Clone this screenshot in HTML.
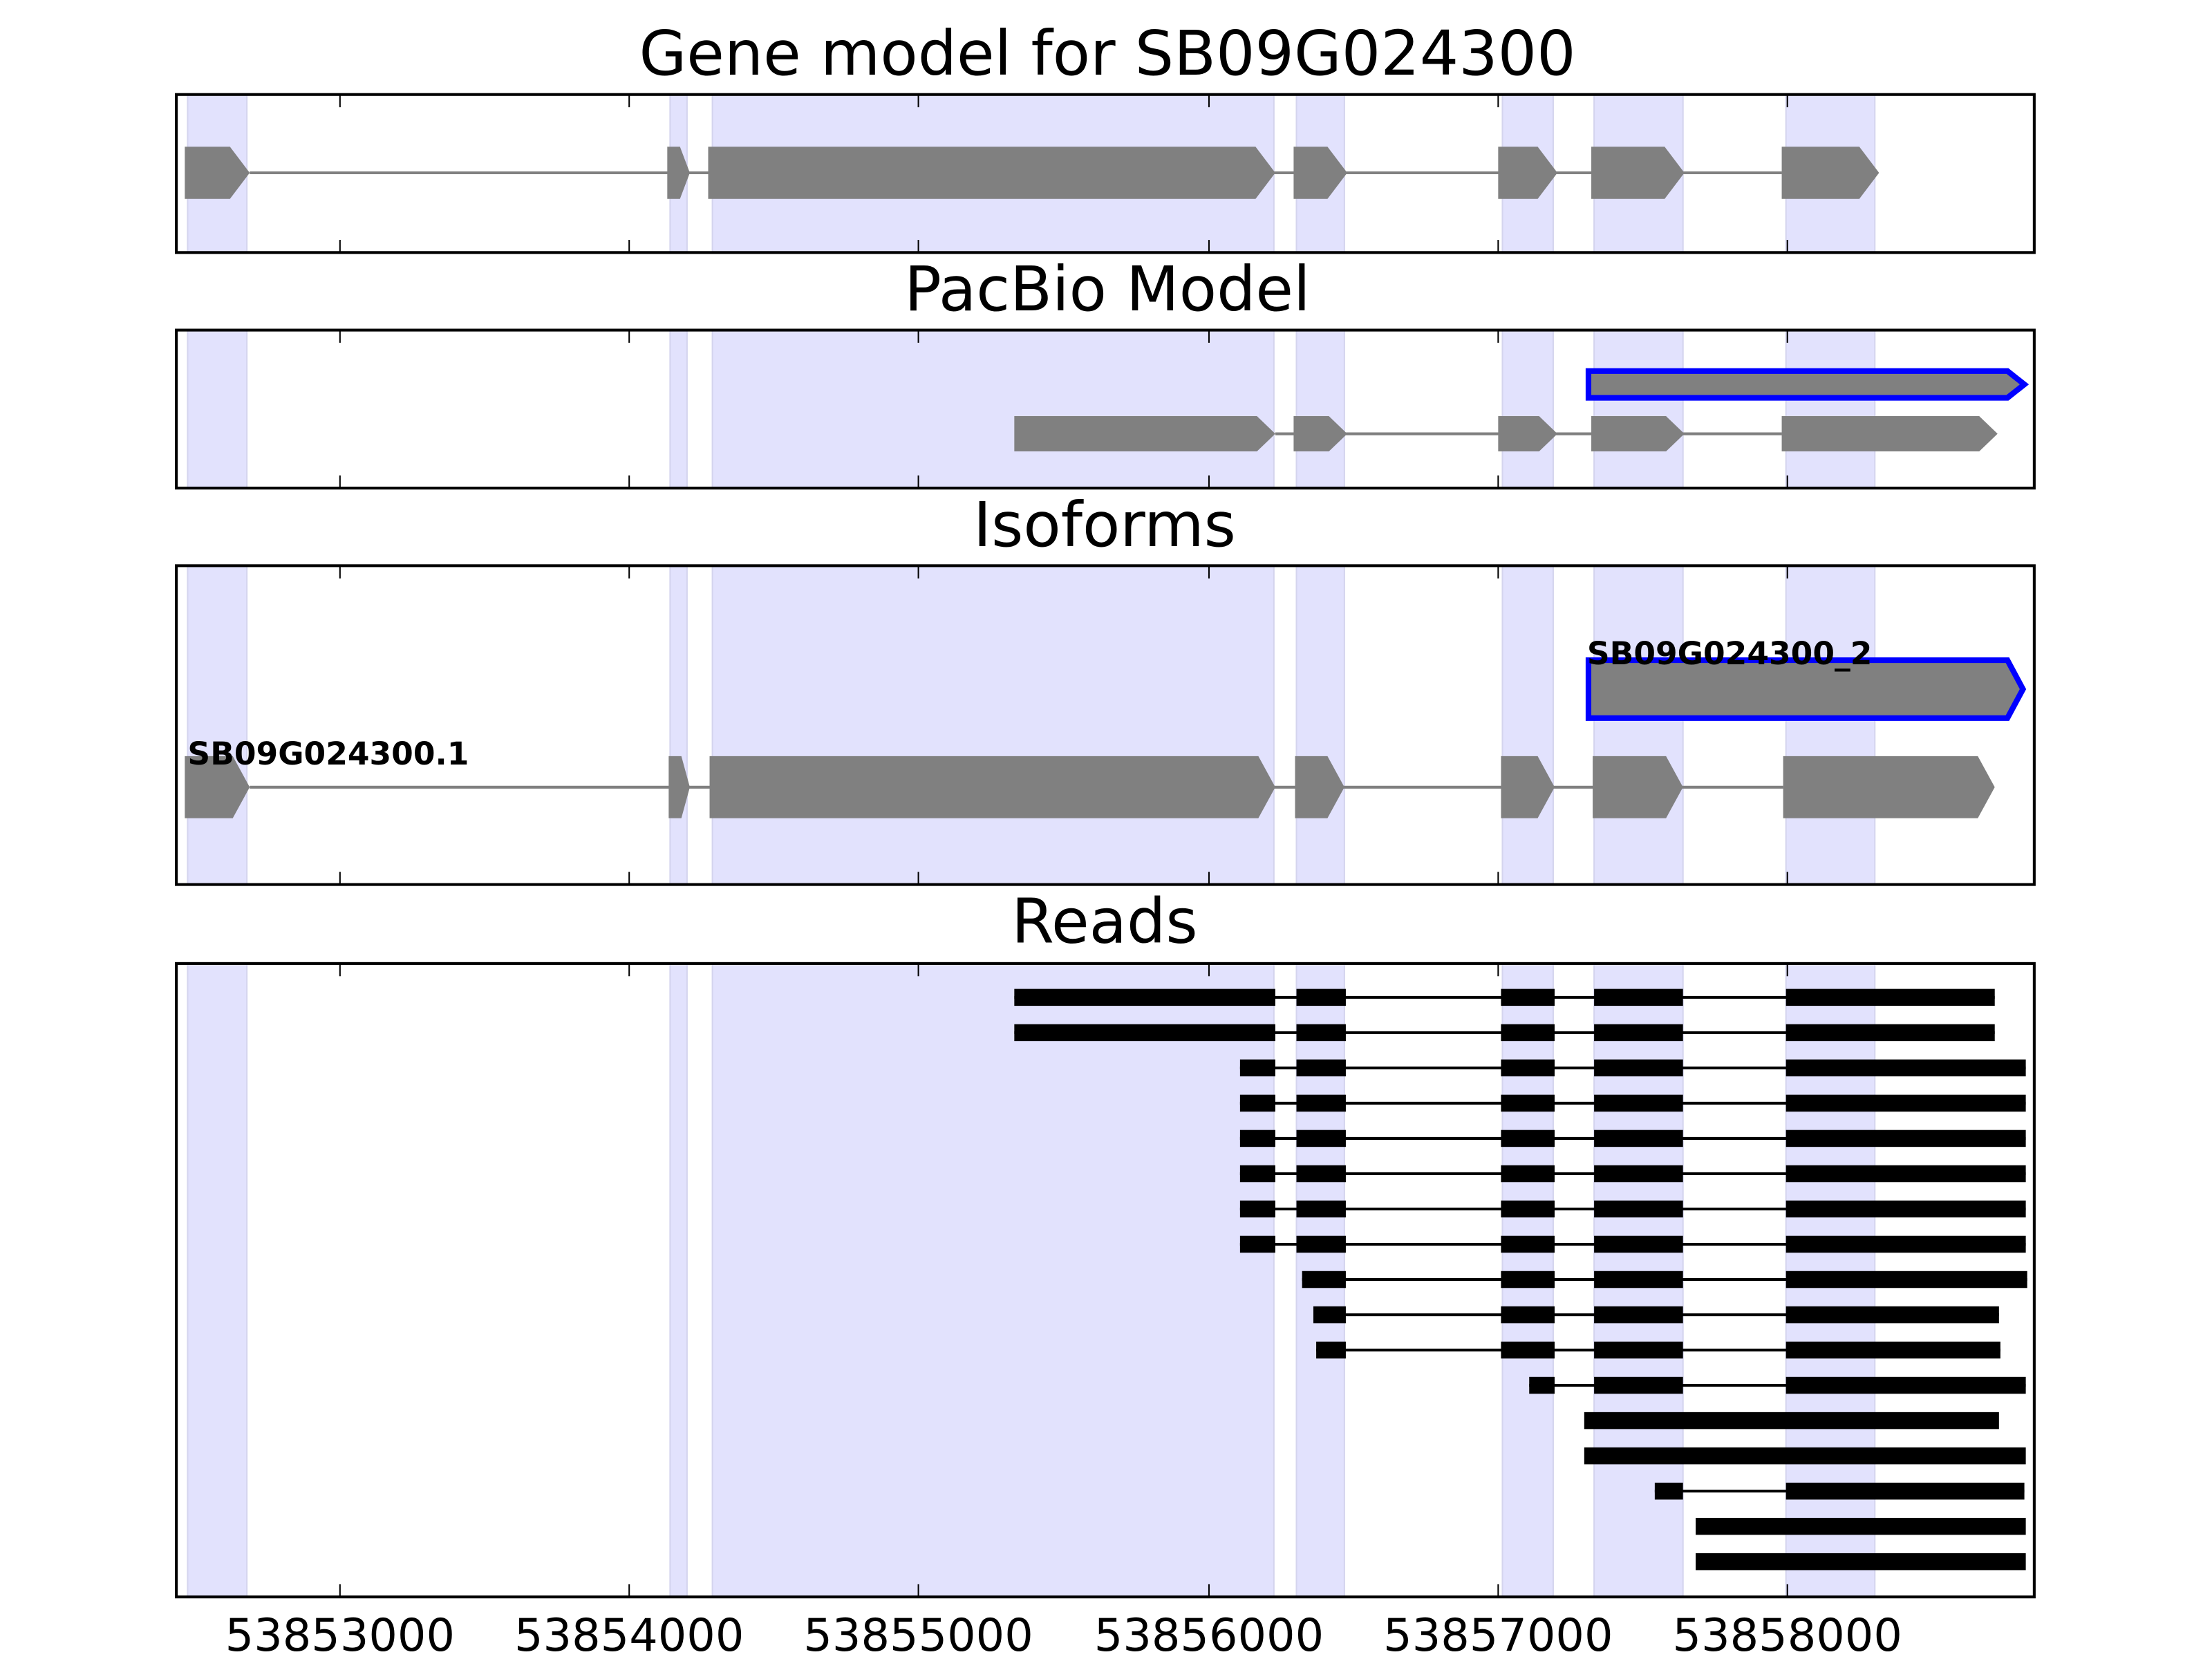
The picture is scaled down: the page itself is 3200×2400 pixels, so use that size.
<!DOCTYPE html>
<html><head><meta charset="utf-8"><style>html,body{margin:0;padding:0;background:#fff}svg{display:block}</style></head>
<body>
<svg xmlns="http://www.w3.org/2000/svg" width="3200" height="2400" viewBox="0 0 1568 1176" font-family="'DejaVu Sans','Liberation Sans',sans-serif">
<rect width="1568" height="1176" fill="#fff"/>
<!-- titles -->
<g font-size="43.5" text-anchor="middle" fill="#000">
<text x="785" y="53">Gene model for SB09G024300</text>
<text x="785" y="220">PacBio Model</text>
<text x="783" y="387">Isoforms</text>
<text x="783" y="668">Reads</text>
</g>

<!-- shading for each panel -->
<g fill="#e2e2fd" stroke="#d4d4ee" stroke-width="1">
<g>
<rect x="133" y="67" width="42" height="112"/><rect x="475" y="67" width="12" height="112"/><rect x="505" y="67" width="398" height="112"/><rect x="919" y="67" width="34" height="112"/><rect x="1065" y="67" width="36" height="112"/><rect x="1130" y="67" width="63" height="112"/><rect x="1266" y="67" width="63" height="112"/>
</g>
<g transform="translate(0,167)">
<rect x="133" y="67" width="42" height="112"/><rect x="475" y="67" width="12" height="112"/><rect x="505" y="67" width="398" height="112"/><rect x="919" y="67" width="34" height="112"/><rect x="1065" y="67" width="36" height="112"/><rect x="1130" y="67" width="63" height="112"/><rect x="1266" y="67" width="63" height="112"/>
</g>
<g>
<rect x="133" y="401" width="42" height="226"/><rect x="475" y="401" width="12" height="226"/><rect x="505" y="401" width="398" height="226"/><rect x="919" y="401" width="34" height="226"/><rect x="1065" y="401" width="36" height="226"/><rect x="1130" y="401" width="63" height="226"/><rect x="1266" y="401" width="63" height="226"/>
</g>
<g>
<rect x="133" y="683" width="42" height="449"/><rect x="475" y="683" width="12" height="449"/><rect x="505" y="683" width="398" height="449"/><rect x="919" y="683" width="34" height="449"/><rect x="1065" y="683" width="36" height="449"/><rect x="1130" y="683" width="63" height="449"/><rect x="1266" y="683" width="63" height="449"/>
</g>
</g>

<!-- Panel 1 gene model -->
<line x1="177" y1="122.5" x2="1263" y2="122.5" stroke="#808080" stroke-width="2"/>
<g fill="#808080">
<polygon points="131,104 163,104 177,122.5 163,141 131,141"/>
<polygon points="473,104 482,104 489,122.5 482,141 473,141"/>
<polygon points="502,104 890,104 904,122.5 890,141 502,141"/>
<polygon points="917,104 941,104 955,122.5 941,141 917,141"/>
<polygon points="1062,104 1090,104 1104,122.5 1090,141 1062,141"/>
<polygon points="1128,104 1180,104 1194,122.5 1180,141 1128,141"/>
<polygon points="1263,104 1318,104 1332,122.5 1318,141 1263,141"/>
</g>

<!-- Panel 2 -->
<polygon points="1126,263 1423,263 1435,272.5 1423,282 1126,282" fill="#808080" stroke="#0000ff" stroke-width="4"/>
<line x1="904" y1="307.5" x2="1263" y2="307.5" stroke="#808080" stroke-width="2"/>
<g fill="#808080">
<polygon points="719,295 891,295 904,307.5 891,320 719,320"/>
<polygon points="917,295 942,295 955,307.5 942,320 917,320"/>
<polygon points="1062,295 1091,295 1104,307.5 1091,320 1062,320"/>
<polygon points="1128,295 1181,295 1194,307.5 1181,320 1128,320"/>
<polygon points="1263,295 1403,295 1416,307.5 1403,320 1263,320"/>
</g>

<!-- Panel 3 -->
<polygon points="1126,468 1423,468 1434,488.5 1423,509 1126,509" fill="#808080" stroke="#0000ff" stroke-width="4"/>
<line x1="177" y1="558" x2="1264" y2="558" stroke="#808080" stroke-width="2"/>
<g fill="#808080">
<polygon points="131,536 165,536 177,558 165,580 131,580"/>
<polygon points="474,536 483,536 489,558 483,580 474,580"/>
<polygon points="503,536 892,536 904,558 892,580 503,580"/>
<polygon points="918,536 941,536 953,558 941,580 918,580"/>
<polygon points="1064,536 1090,536 1102,558 1090,580 1064,580"/>
<polygon points="1129,536 1181,536 1193,558 1181,580 1129,580"/>
<polygon points="1264,536 1402,536 1414,558 1402,580 1264,580"/>
</g>
<g font-size="22.3" font-weight="bold" fill="#000">
<text x="1125" y="471">SB09G024300_2</text>
<text x="133" y="542">SB09G024300.1</text>
</g>

<!-- Reads -->
<g stroke="#000" stroke-width="2">
<line x1="719" y1="707" x2="1414" y2="707"/>
<line x1="719" y1="732" x2="1414" y2="732"/>
<line x1="879" y1="757" x2="1436" y2="757"/>
<line x1="879" y1="782" x2="1436" y2="782"/>
<line x1="879" y1="807" x2="1436" y2="807"/>
<line x1="879" y1="832" x2="1436" y2="832"/>
<line x1="879" y1="857" x2="1436" y2="857"/>
<line x1="879" y1="882" x2="1436" y2="882"/>
<line x1="923" y1="907" x2="1437" y2="907"/>
<line x1="931" y1="932" x2="1417" y2="932"/>
<line x1="933" y1="957" x2="1418" y2="957"/>
<line x1="1084" y1="982" x2="1436" y2="982"/>
<line x1="1173" y1="1057" x2="1435" y2="1057"/>
</g>
<g fill="#000">
<rect x="719" y="701" width="185" height="12"/><rect x="919" y="701" width="35" height="12"/><rect x="1064" y="701" width="38" height="12"/><rect x="1130" y="701" width="63" height="12"/><rect x="1266" y="701" width="148" height="12"/>
<rect x="719" y="726" width="185" height="12"/><rect x="919" y="726" width="35" height="12"/><rect x="1064" y="726" width="38" height="12"/><rect x="1130" y="726" width="63" height="12"/><rect x="1266" y="726" width="148" height="12"/>
<rect x="879" y="751" width="25" height="12"/><rect x="919" y="751" width="35" height="12"/><rect x="1064" y="751" width="38" height="12"/><rect x="1130" y="751" width="63" height="12"/><rect x="1266" y="751" width="170" height="12"/>
<rect x="879" y="776" width="25" height="12"/><rect x="919" y="776" width="35" height="12"/><rect x="1064" y="776" width="38" height="12"/><rect x="1130" y="776" width="63" height="12"/><rect x="1266" y="776" width="170" height="12"/>
<rect x="879" y="801" width="25" height="12"/><rect x="919" y="801" width="35" height="12"/><rect x="1064" y="801" width="38" height="12"/><rect x="1130" y="801" width="63" height="12"/><rect x="1266" y="801" width="170" height="12"/>
<rect x="879" y="826" width="25" height="12"/><rect x="919" y="826" width="35" height="12"/><rect x="1064" y="826" width="38" height="12"/><rect x="1130" y="826" width="63" height="12"/><rect x="1266" y="826" width="170" height="12"/>
<rect x="879" y="851" width="25" height="12"/><rect x="919" y="851" width="35" height="12"/><rect x="1064" y="851" width="38" height="12"/><rect x="1130" y="851" width="63" height="12"/><rect x="1266" y="851" width="170" height="12"/>
<rect x="879" y="876" width="25" height="12"/><rect x="919" y="876" width="35" height="12"/><rect x="1064" y="876" width="38" height="12"/><rect x="1130" y="876" width="63" height="12"/><rect x="1266" y="876" width="170" height="12"/>
<rect x="923" y="901" width="31" height="12"/><rect x="1064" y="901" width="38" height="12"/><rect x="1130" y="901" width="63" height="12"/><rect x="1266" y="901" width="171" height="12"/>
<rect x="931" y="926" width="23" height="12"/><rect x="1064" y="926" width="38" height="12"/><rect x="1130" y="926" width="63" height="12"/><rect x="1266" y="926" width="151" height="12"/>
<rect x="933" y="951" width="21" height="12"/><rect x="1064" y="951" width="38" height="12"/><rect x="1130" y="951" width="63" height="12"/><rect x="1266" y="951" width="152" height="12"/>
<rect x="1084" y="976" width="18" height="12"/><rect x="1130" y="976" width="63" height="12"/><rect x="1266" y="976" width="170" height="12"/>
<rect x="1123" y="1001" width="294" height="12"/>
<rect x="1123" y="1026" width="313" height="12"/>
<rect x="1173" y="1051" width="20" height="12"/><rect x="1266" y="1051" width="169" height="12"/>
<rect x="1202" y="1076" width="234" height="12"/>
<rect x="1202" y="1101" width="234" height="12"/>
</g>

<!-- axes frames -->
<g fill="none" stroke="#000" stroke-width="2">
<rect x="125" y="67" width="1317" height="112"/>
<rect x="125" y="234" width="1317" height="112"/>
<rect x="125" y="401" width="1317" height="226"/>
<rect x="125" y="683" width="1317" height="449"/>
</g>
<g stroke="#000" stroke-width="1">
<path d="M241 67v9M446 67v9M651 67v9M857 67v9M1062 67v9M1267 67v9 M241 179v-9M446 179v-9M651 179v-9M857 179v-9M1062 179v-9M1267 179v-9"/>
<path d="M241 234v9M446 234v9M651 234v9M857 234v9M1062 234v9M1267 234v9 M241 346v-9M446 346v-9M651 346v-9M857 346v-9M1062 346v-9M1267 346v-9"/>
<path d="M241 401v9M446 401v9M651 401v9M857 401v9M1062 401v9M1267 401v9 M241 627v-9M446 627v-9M651 627v-9M857 627v-9M1062 627v-9M1267 627v-9"/>
<path d="M241 683v9M446 683v9M651 683v9M857 683v9M1062 683v9M1267 683v9 M241 1132v-9M446 1132v-9M651 1132v-9M857 1132v-9M1062 1132v-9M1267 1132v-9"/>
</g>
<g font-size="32" text-anchor="middle" fill="#000">
<text x="241" y="1170">53853000</text>
<text x="446" y="1170">53854000</text>
<text x="651" y="1170">53855000</text>
<text x="857" y="1170">53856000</text>
<text x="1062" y="1170">53857000</text>
<text x="1267" y="1170">53858000</text>
</g>
</svg>
</body></html>
